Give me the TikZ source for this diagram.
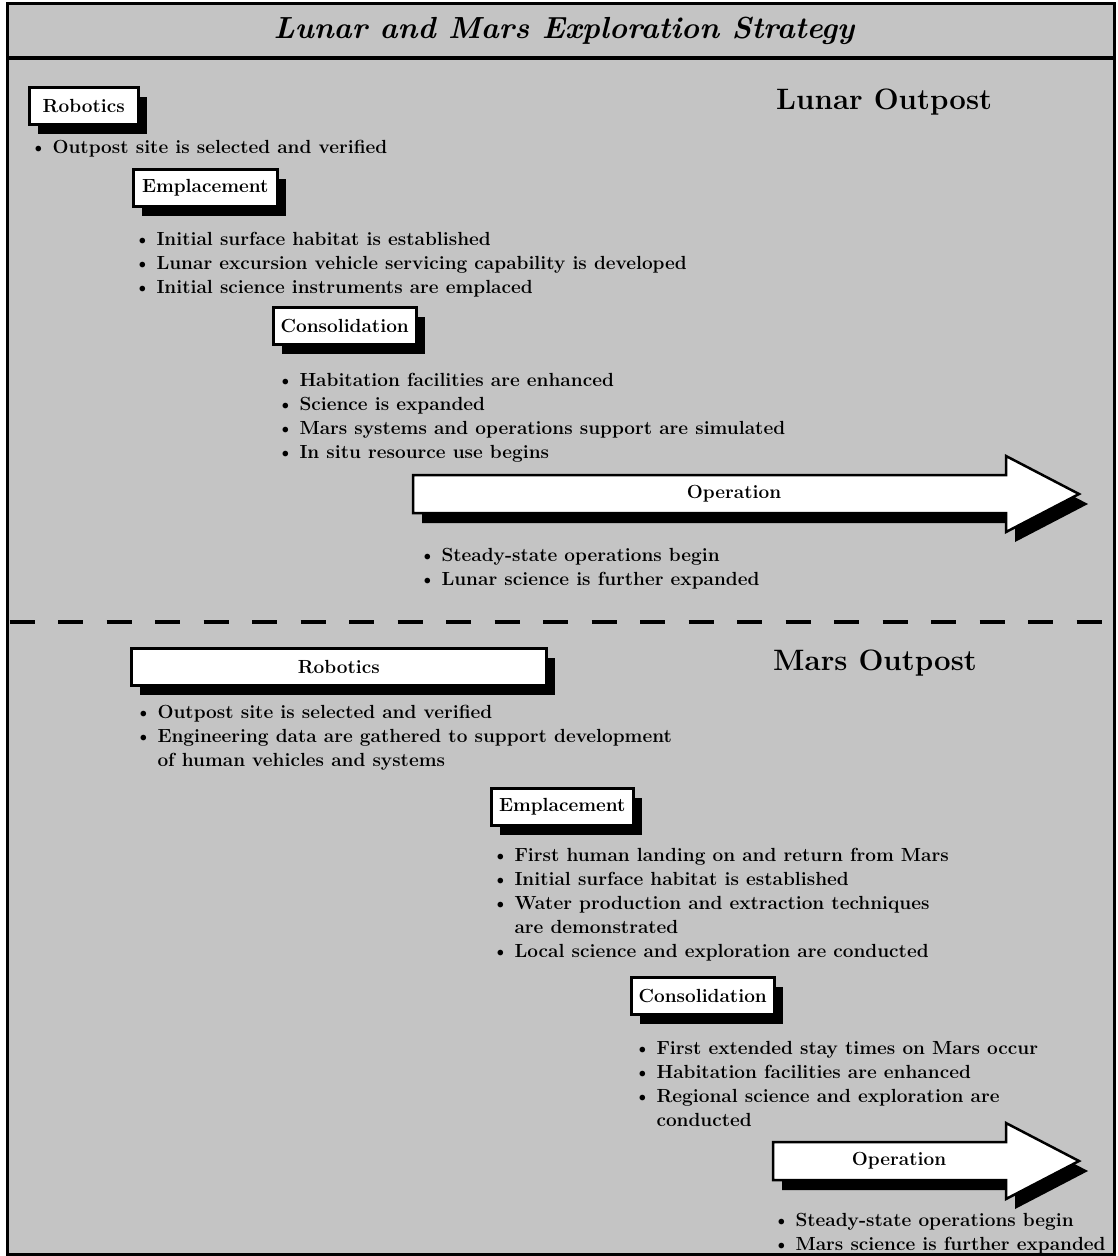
\documentclass[tikz,border=0pt]{standalone}
\usepackage{fontspec}
\usepackage{tikz}
\usetikzlibrary{shapes,arrows,shadows}

\definecolor{stipple}{gray}{0.77}
\newcommand{\itm}{\textbullet\hspace{0.3em}}
\newcommand{\cnt}{\phantom{\textbullet}\hspace{0.3em}}

\begin{document}
\begin{tikzpicture}[x=1pt,y=-1pt]
\tikzstyle{stage} = [rectangle, draw, fill=white, line width=2.5pt, inner sep=0pt, anchor=north west, minimum height=37pt, text centered, font=\fontsize{19}{22}\selectfont\bfseries, drop shadow={shadow xshift=9pt, shadow yshift=-10pt, fill=black, opacity=1}]
\tikzstyle{phase} = [draw, fill=white, line width=2.5pt, drop shadow={shadow xshift=9pt, shadow yshift=-10pt, fill=black, opacity=1}]
\tikzstyle{tag} = [inner sep=0pt, font=\fontsize{19}{22}\selectfont\bfseries]
\tikzstyle{items} = [anchor=north west, inner sep=0pt, align=left, font=\fontsize{19}{24}\selectfont\bfseries]
\tikzstyle{outpost} = [anchor=west, inner sep=0pt, font=\fontsize{29.5}{31}\selectfont\bfseries]
\useasboundingbox (0,0) rectangle (1117,1256);
% frame, title and divider
\draw[line width=3pt, fill=stipple] (7,3) rectangle (1114,1254);
\draw[line width=3.5pt] (7,58) -- (1114,58);
\node[font=\fontsize{30.5}{32}\selectfont\bfseries\itshape] (T) at (564,31) {Lunar and Mars Exploration Strategy};
\draw[line width=4pt, dash pattern=on 25pt off 23.5pt] (9.5,622) -- (1114,622);
% lunar outpost
\node[outpost] (L) at (776,102) {Lunar Outpost};
\node[stage, minimum width=109pt] (R1) at (28,86) {Robotics};
\node[items] (r1) at (30,140) {\itm Outpost site is selected and verified};
\node[stage, minimum width=144pt] (E1) at (132,168) {Emplacement};
\node[items] (e1) at (134,232) {\itm Initial surface habitat is established\\
  \itm Lunar excursion vehicle servicing capability is developed\\
  \itm Initial science instruments are emplaced};
\node[stage, minimum width=143pt] (C1) at (272,306) {Consolidation};
\node[items] (c1) at (277,373) {\itm Habitation facilities are enhanced\\
  \itm Science is expanded\\
  \itm Mars systems and operations support are simulated\\
  \itm In situ resource use begins};
\draw[phase] (413,475) -- (1006,475) -- (1006,456) -- (1079,494) -- (1006,532) -- (1006,513) -- (413,513) -- cycle;
\node[tag] (O1) at (734,494) {Operation};
\node[items] (o1) at (419,548) {\itm Steady-state operations begin\\
  \itm Lunar science is further expanded};
% mars outpost
\node[outpost] (M) at (773,663) {Mars Outpost};
\node[stage, minimum width=415pt] (R2) at (130,647) {Robotics};
\node[items] (r2) at (135,705) {\itm Outpost site is selected and verified\\
  \itm Engineering data are gathered to support development\\
  \cnt of human vehicles and systems};
\node[stage, minimum width=142pt] (E2) at (490,787) {Emplacement};
\node[items] (e2) at (492,848) {\itm First human landing on and return from Mars\\
  \itm Initial surface habitat is established\\
  \itm Water production and extraction techniques\\
  \cnt are demonstrated\\
  \itm Local science and exploration are conducted};
\node[stage, minimum width=143pt] (C2) at (630,976) {Consolidation};
\node[items] (c2) at (634,1041) {\itm First extended stay times on Mars occur\\
  \itm Habitation facilities are enhanced\\
  \itm Regional science and exploration are\\
  \cnt conducted};
\draw[phase] (773,1142) -- (1006,1142) -- (1006,1123) -- (1079,1161) -- (1006,1199) -- (1006,1180) -- (773,1180) -- cycle;
\node[tag] (O2) at (899,1161) {Operation};
\node[items] (o2) at (773,1213) {\itm Steady-state operations begin\\
  \itm Mars science is further expanded};
\end{tikzpicture}
\end{document}
